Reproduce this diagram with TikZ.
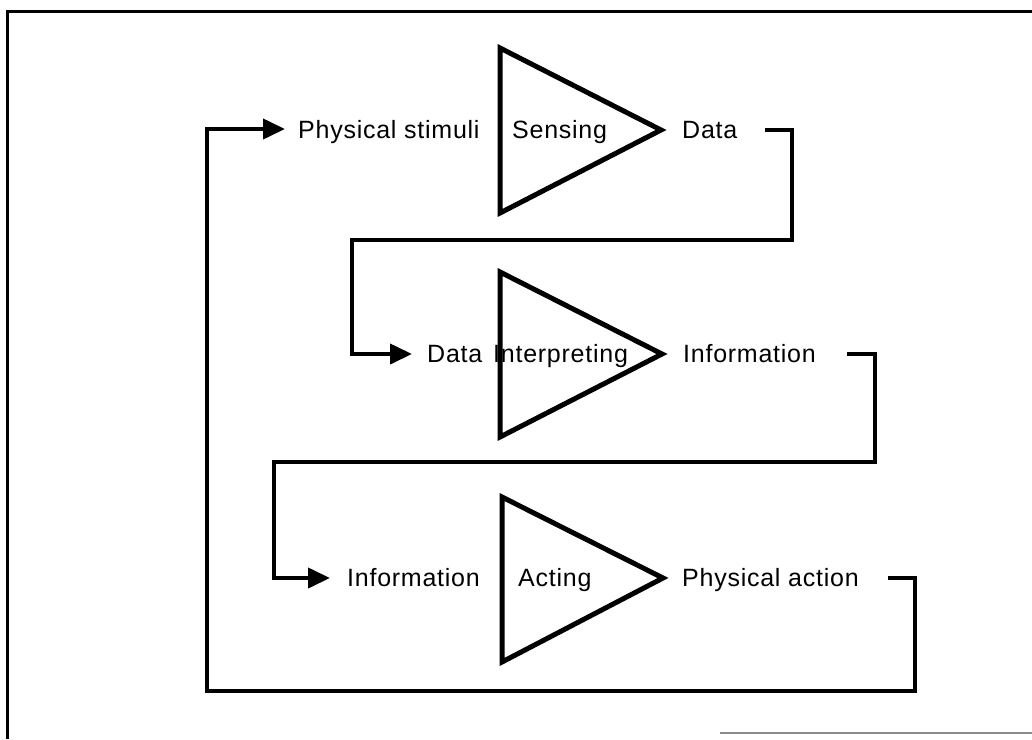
\documentclass[tikz,border=0pt]{standalone}
\usepackage{fontspec}
\setmainfont{Liberation Sans}[LetterSpace=3]
\usetikzlibrary{arrows.meta}
\begin{document}
\begin{tikzpicture}[x=1pt,y=-1pt,
  lbl/.style={anchor=base west, inner sep=0pt, font=\fontsize{25}{30}\selectfont},
  conn/.style={line width=4pt, line join=miter, -{Triangle[length=22pt,width=20pt]}},
  tri/.style={line width=5pt, line join=miter},
  frameline/.style={line width=3pt}]
\useasboundingbox (0,0) rectangle (1032,739);
% frame
\draw[frameline] (1032,11) -- (7,11) -- (7,739);
\draw[line width=2pt, black!45] (720,733) -- (1032,733);
% triangles
\draw[tri] (500,48) -- (500,213) -- (661,130) -- cycle;
\draw[tri] (500,272) -- (500,437) -- (662,354) -- cycle;
\draw[tri] (502,497) -- (502,662) -- (663,578) -- cycle;
% row 1
\node[lbl] (in1) at (298,138) {Physical stimuli};
\node[lbl] (p1) at (512,138) {Sensing};
\node[lbl] (out1) at (682,138) {Data};
% row 2
\node[lbl] (in2) at (427,362) {Data};
\node[lbl] (p2) at (493,362) {Interpreting};
\node[lbl] (out2) at (683,362) {Information};
% row 3
\node[lbl] (in3) at (347,586) {Information};
\node[lbl] (p3) at (518,586) {Acting};
\node[lbl] (out3) at (682,586) {Physical action};
% connector ends
\coordinate (s1) at (765,130);
\coordinate (t2) at (412,354);
\coordinate (s2) at (847,354);
\coordinate (t3) at (330,578);
\coordinate (s3) at (888,578);
\coordinate (t1) at (285,129);
% connectors
\draw[conn] (s1) -- (792,130) -- (792,240) -- (352,240) -- (352,354) -- (t2);
\draw[conn] (s2) -- (875,354) -- (875,462) -- (274,462) -- (274,578) -- (t3);
\draw[conn] (s3) -- (915,578) -- (915,691) -- (207,691) -- (207,129) -- (t1);
\end{tikzpicture}
\end{document}
